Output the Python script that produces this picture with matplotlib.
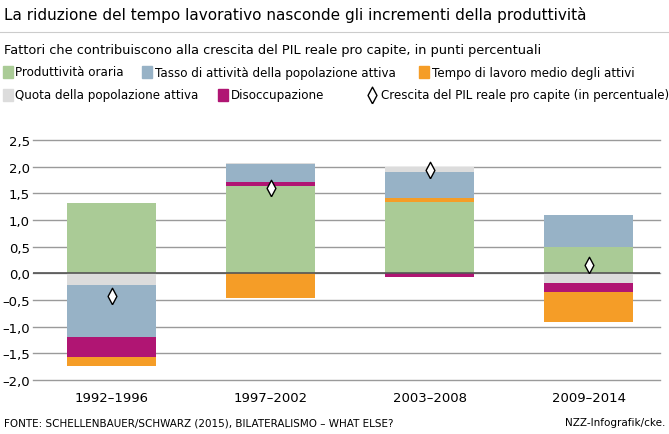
import matplotlib
matplotlib.use("Agg")
import matplotlib.pyplot as plt
from matplotlib.patches import Rectangle
import numpy as np

plt.rcParams['font.family'] = ['DejaVu Sans']

periods = ["1992–1996", "1997–2002", "2003–2008", "2009–2014"]
produttivita = [1.32, 1.63, 1.33, 0.50]
tasso = [-0.98, 0.33, 0.47, 0.59]
tempo = [-0.16, -0.47, 0.09, -0.57]
quota = [-0.21, 0.02, 0.11, -0.19]
disocc = [-0.38, 0.09, -0.06, -0.16]
pil = [-0.43, 1.60, 1.94, 0.16]

c_green = "#aacb96"; c_blue = "#97b2c6"; c_orange = "#f59d27"
c_grey = "#dcdcdc"; c_mag = "#b01573"

orders = [
    [("p", produttivita), ("q", quota), ("t", tasso), ("d", disocc), ("o", tempo)],
    [("p", produttivita), ("d", disocc), ("t", tasso), ("q", quota), ("o", tempo)],
    [("p", produttivita), ("o", tempo), ("t", tasso), ("q", quota), ("d", disocc)],
    [("p", produttivita), ("t", tasso), ("q", quota), ("d", disocc), ("o", tempo)],
]
colors = {"p": c_green, "t": c_blue, "o": c_orange, "q": c_grey, "d": c_mag}
diamond = [(0, -1.4), (0.75, 0), (0, 1.4), (-0.75, 0), (0, -1.4)]

fig = plt.figure(figsize=(6.69, 4.35), dpi=100)
ax = fig.add_axes([0.049, 0.124, 0.938, 0.552])
x = np.arange(len(periods))
w = 0.56
for i, order in enumerate(orders):
    pos, neg = 0.0, 0.0
    for key, arr in order:
        v = arr[i]
        if v >= 0:
            ax.bar(x[i], v, w, bottom=pos, color=colors[key], zorder=3)
            pos += v
        else:
            ax.bar(x[i], v, w, bottom=neg, color=colors[key], zorder=3)
            neg += v
ax.scatter(x, pil, marker=diamond, s=140, facecolor="white", edgecolor="black",
           linewidth=1, zorder=5)
ax.set_ylim(-2.0, 2.5)
ax.set_xlim(-0.498, 3.45)
ticks = np.arange(-2.0, 2.51, 0.5)
ax.set_yticks(ticks)
ax.set_yticklabels([f"{v:.1f}".replace(".", ",").replace("-", "–") for v in ticks])
ax.grid(axis="y", color="#9a9a9a", linewidth=1, zorder=1, clip_on=False)
ax.axhline(0, color="#555555", linewidth=1.2, zorder=4)
for s in ax.spines.values():
    s.set_visible(False)
ax.tick_params(axis="y", length=0, labelsize=9.5, pad=2)
ax.tick_params(axis="x", length=0, labelsize=9.5, pad=8)
ax.set_xticks(x)
ax.set_xticklabels(periods)

fig.text(0.006, 0.965, "La riduzione del tempo lavorativo nasconde gli incrementi della produttività",
         fontsize=11, va="center")
fig.add_artist(plt.Line2D([0, 1], [0.925, 0.925], color="#cccccc", lw=0.8))
fig.text(0.006, 0.885, "Fattori che contribuiscono alla crescita del PIL reale pro capite, in punti percentuali",
         fontsize=9.3, va="center")

H = 435.0; Wd = 669.0
def leg_box(px, py, col):
    fig.add_artist(Rectangle((px / Wd, 1 - (py + 6) / H), 10 / Wd, 12 / H,
                             color=col, transform=fig.transFigure))
def leg_text(px, py, t):
    fig.text(px / Wd, 1 - py / H, t, fontsize=8.6, va="center")

leg_box(3, 73, c_green); leg_text(15, 73, "Produttività oraria")
leg_box(142, 73, c_blue); leg_text(155, 73, "Tasso di attività della popolazione attiva")
leg_box(419, 73, c_orange); leg_text(432, 73, "Tempo di lavoro medio degli attivi")
leg_box(3, 96, c_grey); leg_text(15, 96, "Quota della popolazione attiva")
leg_box(218, 96, c_mag); leg_text(231, 96, "Disoccupazione")
fig.add_artist(plt.Line2D([372 / Wd], [1 - 96 / H], marker=diamond, markersize=12,
                          markerfacecolor="white", markeredgecolor="black",
                          transform=fig.transFigure))
leg_text(381, 96, "Crescita del PIL reale pro capite (in percentuale)")

fig.text(0.006, 0.027, "FONTE: SCHELLENBAUER/SCHWARZ (2015), BILATERALISMO – WHAT ELSE?",
         fontsize=7.5, va="center")
fig.text(0.994, 0.027, "NZZ-Infografik/cke.", fontsize=7.5, va="center", ha="right")
fig.savefig("out.png", dpi=100)
